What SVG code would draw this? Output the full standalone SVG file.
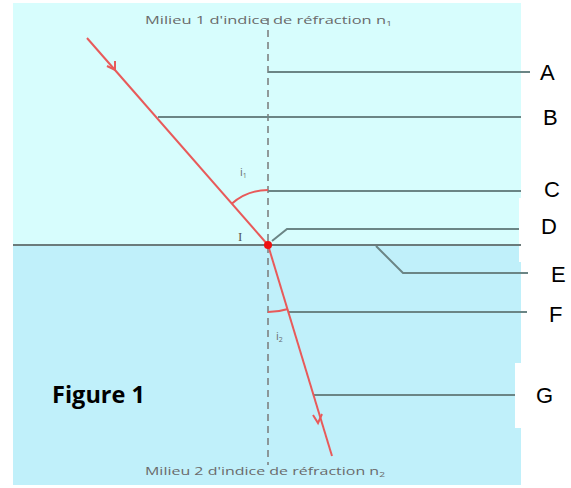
<svg xmlns="http://www.w3.org/2000/svg" width="571" height="488" viewBox="0 0 571 488">
<defs>
<style>
.lead{stroke:#6b8585;stroke-width:2;fill:none;stroke-linecap:butt}
.ray{stroke:#e85a5a;stroke-width:2;fill:none}
.norm{stroke:#7a7a7a;stroke-width:1.5;stroke-dasharray:7 5;fill:none}
.small{font-family:"Open Sans","Liberation Sans",sans-serif;font-size:11px;fill:#6a6a6a}
.lbl{font-family:"Liberation Sans",Arial,sans-serif;font-size:22px;fill:#000}
</style>
</defs>
<rect x="0" y="0" width="571" height="488" fill="#ffffff"/>
<g id="background">
<rect x="13" y="3" width="508" height="242" fill="#d7fdfd"/>
<rect x="13" y="245" width="508" height="240" fill="#c0f0fa"/>
<rect x="519" y="198" width="52" height="64" fill="#ffffff"/>
<rect x="515" y="363" width="56" height="65" fill="#ffffff"/>
</g>
<g id="connectors">
<line class="norm" x1="268" y1="18" x2="268" y2="465"/>
<line x1="13" y1="245" x2="521" y2="245" stroke="#6b7b7b" stroke-width="2"/>
<polyline class="lead" points="268,72 530,72"/>
<polyline class="lead" points="158,117 521,117"/>
<polyline class="lead" points="268,191 521,191"/>
<polyline class="lead" points="272,241 287,229 519,229"/>
<polyline class="lead" points="376,246 403,273 528,273"/>
<polyline class="lead" points="288,312 527,312"/>
<polyline class="lead" points="314,395 515,395"/>
<path class="ray" d="M231.7,203.7 A55,55 0 0 1 268,190"/>
<path class="ray" d="M268,312 A67,67 0 0 0 288,309"/>
<line class="ray" x1="87" y1="38" x2="268" y2="245"/>
<polyline class="ray" points="107,66 115,70 115,61"/>
<line class="ray" x1="268" y1="245" x2="332" y2="456"/>
<polyline class="ray" points="313,415 318,423 322,414"/>
<circle cx="268" cy="245" r="4" fill="#ee1111"/>
</g>
<g id="texts">
<text class="small" x="145" y="24" textLength="247" lengthAdjust="spacingAndGlyphs">Milieu 1 d'indice de réfraction n<tspan font-size="7" dy="2">1</tspan></text>
<text class="small" x="145" y="475" textLength="240" lengthAdjust="spacingAndGlyphs">Milieu 2 d'indice de réfraction n<tspan font-size="7" dy="2">2</tspan></text>
<text class="small" x="240" y="176">i<tspan font-size="7" dy="2">1</tspan></text>
<text class="small" x="276" y="340">i<tspan font-size="7" dy="2">2</tspan></text>
<text x="238" y="241" font-family="Liberation Serif,serif" font-size="13" fill="#555">I</text>
<text x="52" y="403" font-family="Open Sans,Liberation Sans,sans-serif" font-weight="bold" font-size="23" fill="#000" textLength="93" lengthAdjust="spacingAndGlyphs">Figure 1</text>
</g>
<g id="label-A"><text class="lbl" x="540" y="80">A</text></g>
<g id="label-B"><text class="lbl" x="543" y="125">B</text></g>
<g id="label-C"><text class="lbl" x="544" y="197">C</text></g>
<g id="label-D"><text class="lbl" x="541" y="234">D</text></g>
<g id="label-E"><text class="lbl" x="551" y="282">E</text></g>
<g id="label-F"><text class="lbl" x="549" y="322">F</text></g>
<g id="label-G"><text class="lbl" x="536" y="403">G</text></g>
</svg>
